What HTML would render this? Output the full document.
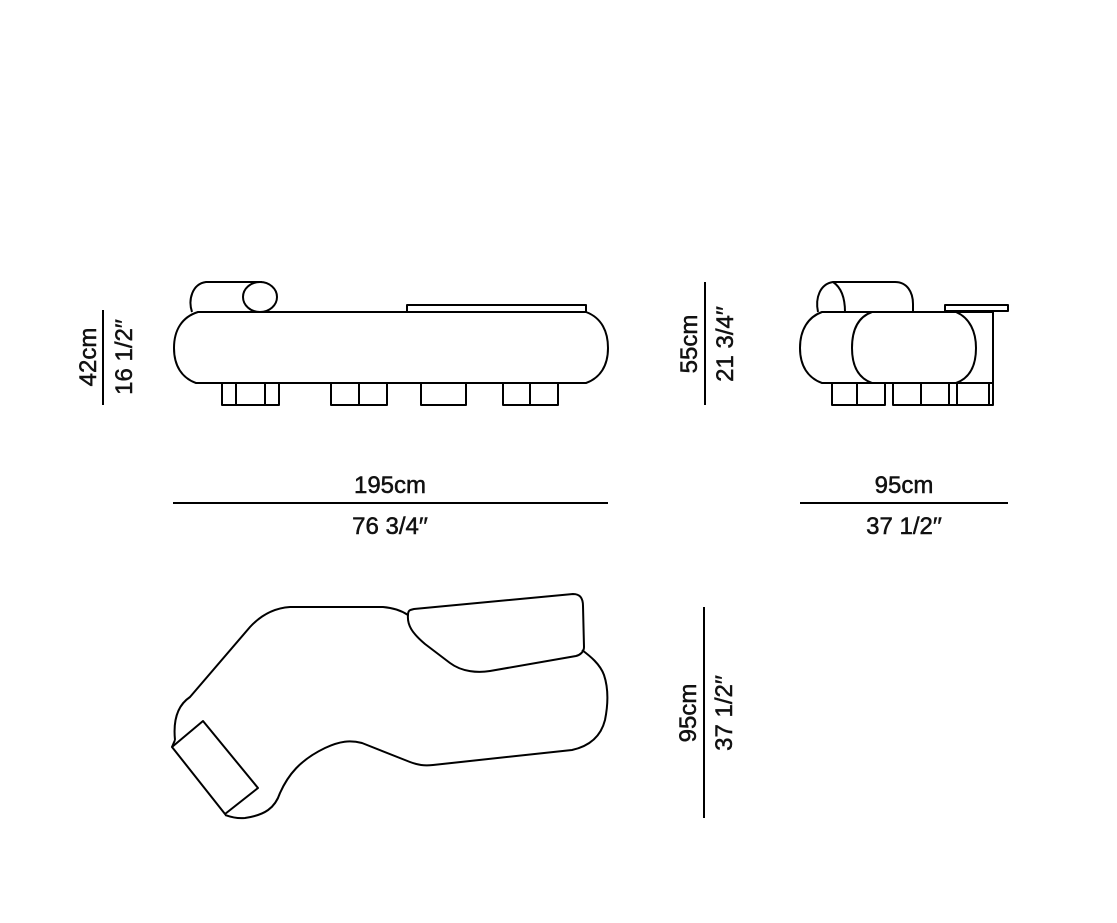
<!DOCTYPE html>
<html><head><meta charset="utf-8"><style>
html,body{margin:0;padding:0;background:#fff;}
svg{display:block;}
text{font-family:"Liberation Sans",sans-serif;font-size:24px;fill:#111;stroke:#111;stroke-width:0.5;}
</style></head><body>
<svg width="1117" height="923" viewBox="0 0 1117 923" xmlns="http://www.w3.org/2000/svg">
<g fill="none" stroke="#000" stroke-width="2" stroke-linejoin="round">
<!-- front view -->
<path d="M192,312 C188,300 192,284 206,282 L262,282"/>
<ellipse cx="260" cy="297" rx="17" ry="15"/>
<rect x="407" y="305" width="179" height="7"/>
<path d="M198,312 L586,312 C602,318 608,332 608,348 C608,366 600,378 586,383 L196,383 C182,378 174,366 174,348 C174,330 182,317 198,312 Z" fill="#fff"/>
<rect x="222" y="383" width="57" height="22"/><line x1="236" y1="383" x2="236" y2="405"/><line x1="265" y1="383" x2="265" y2="405"/>
<rect x="331" y="383" width="56" height="22"/><line x1="359" y1="383" x2="359" y2="405"/>
<rect x="421" y="383" width="45" height="22"/>
<rect x="503" y="383" width="55" height="22"/><line x1="530" y1="383" x2="530" y2="405"/>
<!-- side view -->
<path d="M833,282 L895,282 C907,282 913,292 913,304 L913,312"/>
<path d="M818,312 C815,298 820,284 833,282 C842,288 845,300 845,312"/>
<rect x="945" y="305" width="63" height="6"/>
<line x1="993" y1="311" x2="993" y2="405"/>
<path d="M822,312 L993,312 L993,383 L822,383 C808,378 800,366 800,348 C800,330 808,317 822,312 Z" fill="#fff"/>
<path d="M872,312 L956,312 C970,318 976,332 976,348 C976,366 970,378 956,383 L872,383 C858,378 852,366 852,348 C852,330 858,317 872,312 Z" fill="#fff"/>
<rect x="832" y="383" width="53" height="22"/><line x1="857" y1="383" x2="857" y2="405"/>
<rect x="893" y="383" width="100" height="22"/><line x1="921" y1="383" x2="921" y2="405"/><line x1="949" y1="383" x2="949" y2="405"/><line x1="957" y1="383" x2="957" y2="405"/><line x1="989" y1="383" x2="989" y2="405"/>
<!-- top view -->
<path d="M175,740 C173,720 178,705 190,697 L250,627 C262,614 275,608 290,607 L383,607 C395,608 402,611 408,615"/>
<path d="M408,615 C408,610 410,610 414,609 L573,594 C580,594 583,598 583,606 L584,647 C584,652 580,655 576,656 L490,671 C478,673 462,672 450,663 L425,644 C412,633 407,625 408,615 Z"/>
<path d="M582,650 C590,656 600,664 604,675 C609,690 608,705 605,720 C601,736 590,746 572,750 L433,765 C424,766 418,765 410,762 L362,743 C350,740 340,741 325,748 C300,760 288,775 280,793 C275,808 265,815 245,818 C235,819 228,816 225,815"/>
<path d="M172,747 L203,721 L258,788 L225,814 Z"/>
<line x1="175" y1="740" x2="172" y2="747"/>
<!-- dimension lines -->
<line x1="103" y1="310" x2="103" y2="405"/>
<line x1="173" y1="503" x2="608" y2="503"/>
<line x1="800" y1="503" x2="1008" y2="503"/>
<line x1="705" y1="282" x2="705" y2="405"/>
<line x1="704" y1="607" x2="704" y2="818"/>
</g>
<text x="390" y="493" text-anchor="middle">195cm</text>
<text x="390" y="534" text-anchor="middle">76 3/4′′</text>
<text x="904" y="493" text-anchor="middle">95cm</text>
<text x="904" y="534" text-anchor="middle">37 1/2′′</text>
<text transform="translate(96,357) rotate(-90)" text-anchor="middle">42cm</text>
<text transform="translate(132,357) rotate(-90)" text-anchor="middle">16 1/2′′</text>
<text transform="translate(697,344) rotate(-90)" text-anchor="middle">55cm</text>
<text transform="translate(733,344) rotate(-90)" text-anchor="middle">21 3/4′′</text>
<text transform="translate(696,713) rotate(-90)" text-anchor="middle">95cm</text>
<text transform="translate(732,713) rotate(-90)" text-anchor="middle">37 1/2′′</text>
</svg>
</body></html>
